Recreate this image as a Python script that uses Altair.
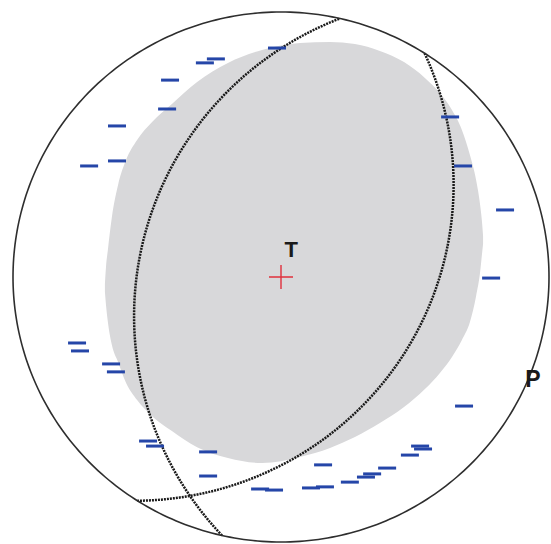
import numpy as np
import pandas as pd
import altair as alt

# Canvas and primitive circle (pixels); the net is slightly wider than tall
W, H = 551, 544
CX, CY = 281, 277
RX, RY = 268, 265

# Dilatational (negative) first motions, stereonet coordinates on a unit primitive
neg_x = [-0.015, -0.243, -0.284, -0.414, -0.425, -0.612, -0.612, -0.716,
         0.631, 0.679, 0.836, 0.784,
         -0.761, -0.750, -0.634, -0.616, 0.683,
         -0.496, -0.470, -0.272, -0.272, 0.157,
         0.519, 0.530, 0.481, 0.396, 0.317, 0.340, 0.257,
         -0.078, -0.026, 0.112, 0.164]
neg_y = [0.864, 0.823, 0.808, 0.743, 0.634, 0.570, 0.438, 0.419,
         0.604, 0.419, 0.253, -0.004,
         -0.249, -0.279, -0.328, -0.358, -0.487,
         -0.619, -0.638, -0.660, -0.751, -0.709,
         -0.638, -0.649, -0.672, -0.721, -0.755, -0.743, -0.774,
         -0.800, -0.804, -0.796, -0.792]

# Nodal planes (right-hand-rule strike, dip), degrees
plane_names = ["plane 1", "plane 2"]
plane_strike = [192.7, 32.4]
plane_dip = [34.0, 33.0]

# Shaded T region: upper and lower boundary sampled along the east axis
shade_x = [-0.657, -0.653, -0.646, -0.631, -0.608, -0.578, -0.537, -0.481,
           -0.407, -0.313, -0.198, -0.071, 0.071, 0.183, 0.276, 0.369,
           0.459, 0.537, 0.593, 0.638, 0.675, 0.705, 0.728, 0.743,
           0.750, 0.754]
shade_top = [-0.026, 0.038, 0.102, 0.226, 0.347, 0.442, 0.517, 0.585,
             0.653, 0.736, 0.808, 0.857, 0.883, 0.887, 0.879, 0.853,
             0.811, 0.751, 0.694, 0.630, 0.555, 0.460, 0.366, 0.272,
             0.208, 0.155]
shade_bottom = [-0.057, -0.106, -0.170, -0.257, -0.321, -0.400, -0.464, -0.525,
                -0.581, -0.642, -0.683, -0.702, -0.679, -0.645, -0.604, -0.551,
                -0.491, -0.423, -0.362, -0.302, -0.238, -0.170, -0.072, 0.019,
                0.087, 0.125]

# Axis labels
label_text = ["T", "P"]
label_x = [0.038, 0.940]
label_y = [0.075, -0.415]
label_size = [22, 23]


def great_circle(strike, dip, n=181):
    """Stereographic (lower hemisphere) trace of a plane."""
    s = np.radians(strike)
    d = np.radians(dip)
    dd = s + np.pi / 2
    lam = np.linspace(0, np.pi, n)
    sv = np.array([np.sin(s), np.cos(s), 0.0])
    dv = np.array([np.cos(d) * np.sin(dd), np.cos(d) * np.cos(dd), np.sin(d)])
    v = np.outer(np.cos(lam), sv) + np.outer(np.sin(lam), dv)
    plunge = np.arcsin(np.clip(v[:, 2], -1, 1))
    trend = np.arctan2(v[:, 0], v[:, 1])
    rho = np.tan((np.pi / 2 - plunge) / 2)
    return rho * np.sin(trend), rho * np.cos(trend)


# Primitive circle
t = np.linspace(0, 2 * np.pi, 361)
prim = pd.DataFrame({"x": np.cos(t), "y": np.sin(t), "i": np.arange(len(t))})

# Nodal plane traces
gc_rows = []
for name, st, dp in zip(plane_names, plane_strike, plane_dip):
    gx, gy = great_circle(st, dp)
    gc_rows.append(pd.DataFrame({"x": gx, "y": gy, "i": np.arange(len(gx)), "plane": name}))
gc = pd.concat(gc_rows, ignore_index=True)

shade_df = pd.DataFrame({"x": shade_x, "y": shade_bottom, "y2": shade_top})
negs = pd.DataFrame({"x": neg_x, "y": neg_y})
labels = pd.DataFrame({"x": label_x, "y": label_y, "t": label_text, "s": label_size})
centre = pd.DataFrame({"x": [0.0], "y": [0.0]})

xs = alt.Scale(domain=[-CX / RX, (W - CX) / RX], nice=False, zero=False)
ys = alt.Scale(domain=[-(H - CY) / RY, CY / RY], nice=False, zero=False)
X = alt.X("x:Q", scale=xs, axis=None)
Y = alt.Y("y:Q", scale=ys, axis=None)

shade = alt.Chart(shade_df).mark_area(
    color="#d8d8da", opacity=1, interpolate="monotone"
).encode(x=X, y=Y, y2="y2:Q")

planes = alt.Chart(gc).mark_line(
    color="#1a1a1a", strokeWidth=2.5, strokeDash=[2, 1]
).encode(x=X, y=Y, order="i:Q", detail="plane:N")

primitive = alt.Chart(prim).mark_line(color="#2e2e2e", strokeWidth=1.6).encode(
    x=X, y=Y, order="i:Q"
)

minus = alt.Chart(negs).mark_point(
    shape="M-1,0L1,0", size=324, filled=False, strokeWidth=3,
    color="#2546a8", opacity=1, strokeCap="butt"
).encode(x=X, y=Y)

cross = alt.Chart(centre).mark_point(
    shape="M-1,0L1,0M0,-1L0,1", size=576, filled=False, strokeWidth=1.4,
    color="#e0303c", opacity=1
).encode(x=X, y=Y)

text = alt.Chart(labels).mark_text(
    font="Liberation Sans", fontWeight="bold",
    baseline="alphabetic", align="center", color="#1a1a1a"
).encode(
    x=X, y=Y, text="t:N",
    size=alt.Size("s:Q", scale=None, legend=None),
)

chart = (
    alt.layer(shade, planes, primitive, minus, cross, text)
    .properties(width=W, height=H, padding=0, autosize="none", background="white")
    .configure_view(stroke=None)
)

chart.save("out.html", embed_options={"renderer": "svg", "actions": False})
